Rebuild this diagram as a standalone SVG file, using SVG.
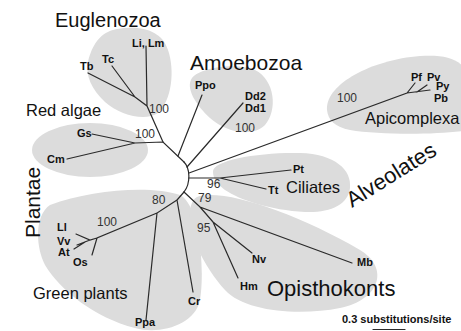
<svg xmlns="http://www.w3.org/2000/svg" width="461" height="331" viewBox="0 0 461 331">
<style>
.blob{fill:#dcdcdc;stroke:none}
.br{stroke:#2a2a2a;stroke-width:1.2;fill:none;stroke-linecap:round}
.tip{font-family:"Liberation Sans",Arial,sans-serif;font-weight:bold;font-size:11px;fill:#111}
.bs{font-family:"Liberation Sans",Arial,sans-serif;font-size:12px;fill:#333}
.grp{font-family:"Liberation Sans",Arial,sans-serif;fill:#111}
</style>
<rect width="461" height="331" fill="#fff"/>
<g id="blobs">
<path id="blob-eugl" class="blob" d="M117,29 C140,25 162,30 168,50 C175,70 172,100 158,113 C145,122 120,115 105,102 C92,90 85,75 88,62 C92,45 100,32 117,29 Z"/>
<ellipse id="blob-red" class="blob" cx="90" cy="150" rx="58" ry="27"/>
<path id="blob-amoe" class="blob" d="M192,78 C200,68 235,62 255,70 C275,80 278,110 265,125 C252,138 225,132 210,118 C196,105 185,88 192,78 Z"/>
<path id="blob-api" class="blob" d="M327,110 C325,85 370,60 420,56 C450,54 470,60 470,90 L470,130 C440,135 380,135 350,130 C335,127 328,120 327,110 Z"/>
<path id="blob-cil" class="blob" d="M213,172 C212,160 260,152 300,153 C335,154 352,170 350,188 C348,205 330,213 305,212 C270,210 240,200 225,190 C217,184 213,178 213,172 Z"/>
<path id="blob-green" class="blob" d="M50,205 C90,190 150,185 180,195 C200,205 205,270 200,300 C195,325 160,335 135,328 C95,318 60,290 45,265 C35,245 35,215 50,205 Z"/>
<path id="blob-opis" class="blob" d="M200,196 C230,190 300,215 360,250 C390,268 380,300 340,308 C300,316 245,312 225,290 C205,268 185,230 190,210 C192,200 195,197 200,196 Z"/>
</g>
<g id="connectors">
<path class="br" d="M184,162 C190,168 191,183 184,192"/>
<path class="br" d="M146,46 L147,106 M112,66 L135,97 M88,73 L135,97 L147,106 L163,142"/>
<path class="br" d="M92,134 L135,143 M67,159 L135,143 L163,142 L184,162"/>
<path class="br" d="M202,95 L178,156"/>
<path class="br" d="M187,167 L243,103"/>
<path class="br" d="M189,173 L407,93 L415,83 M407,93 L430,90 M417,92 L427,85"/>
<path class="br" d="M189,178 L220,178 L291,170 M220,178 L266,189"/>
<path class="br" d="M184,192 L177,200 L193,292 M177,200 L157,213 L146,320 M157,213 L97,238 L92,255 M97,238 L90,240 L76,234 M90,240 L77,245 M85,242 L74,249"/>
<path class="br" d="M184,192 L200,207 L352,263 M200,207 L213,222 L252,253 M213,222 L238,278"/>
<path class="br" d="M373,329.5 L405,329.5"/>
</g>
<g id="tips">
<text class="tip" x="132" y="47">Li, Lm</text>
<text class="tip" x="102" y="63">Tc</text>
<text class="tip" x="80" y="70">Tb</text>
<text class="tip" x="77" y="137">Gs</text>
<text class="tip" x="47" y="163">Cm</text>
<text class="tip" x="195" y="89">Ppo</text>
<text class="tip" x="245" y="100">Dd2</text>
<text class="tip" x="245" y="112">Dd1</text>
<text class="tip" x="411" y="81">Pf</text>
<text class="tip" x="427" y="81">Pv</text>
<text class="tip" x="436" y="90">Py</text>
<text class="tip" x="434" y="102">Pb</text>
<text class="tip" x="293" y="173">Pt</text>
<text class="tip" x="268" y="194">Tt</text>
<text class="tip" x="357" y="266">Mb</text>
<text class="tip" x="252" y="263">Nv</text>
<text class="tip" x="240" y="290">Hm</text>
<text class="tip" x="57" y="231">Ll</text>
<text class="tip" x="57" y="245">Vv</text>
<text class="tip" x="58" y="256">At</text>
<text class="tip" x="73" y="266">Os</text>
<text class="tip" x="135" y="326">Ppa</text>
<text class="tip" x="188" y="305">Cr</text>
</g>
<g id="bootstrap">
<text class="bs" x="149" y="113">100</text>
<text class="bs" x="135" y="138">100</text>
<text class="bs" x="235" y="132">100</text>
<text class="bs" x="337" y="102">100</text>
<text class="bs" x="207" y="188">96</text>
<text class="bs" x="198" y="202">79</text>
<text class="bs" x="197" y="232">95</text>
<text class="bs" x="152" y="204">80</text>
<text class="bs" x="97" y="226">100</text>
</g>
<g id="groups">
<text class="grp" x="55" y="27" font-size="20">Euglenozoa</text>
<text class="grp" x="190" y="70" font-size="21">Amoebozoa</text>
<text class="grp" x="26" y="116" font-size="16.5">Red algae</text>
<text class="grp" x="365" y="124" font-size="16.5">Apicomplexa</text>
<text class="grp" x="286" y="193" font-size="16.5">Ciliates</text>
<text class="grp" font-size="22" transform="translate(352,208) rotate(-32)">Alveolates</text>
<text class="grp" font-size="21" transform="translate(40,238) rotate(-90)">Plantae</text>
<text class="grp" x="33" y="299" font-size="16.5">Green plants</text>
<text class="grp" x="267" y="296" font-size="22">Opisthokonts</text>
<text class="tip" x="342" y="323">0.3 substitutions/site</text>
</g>
</svg>
